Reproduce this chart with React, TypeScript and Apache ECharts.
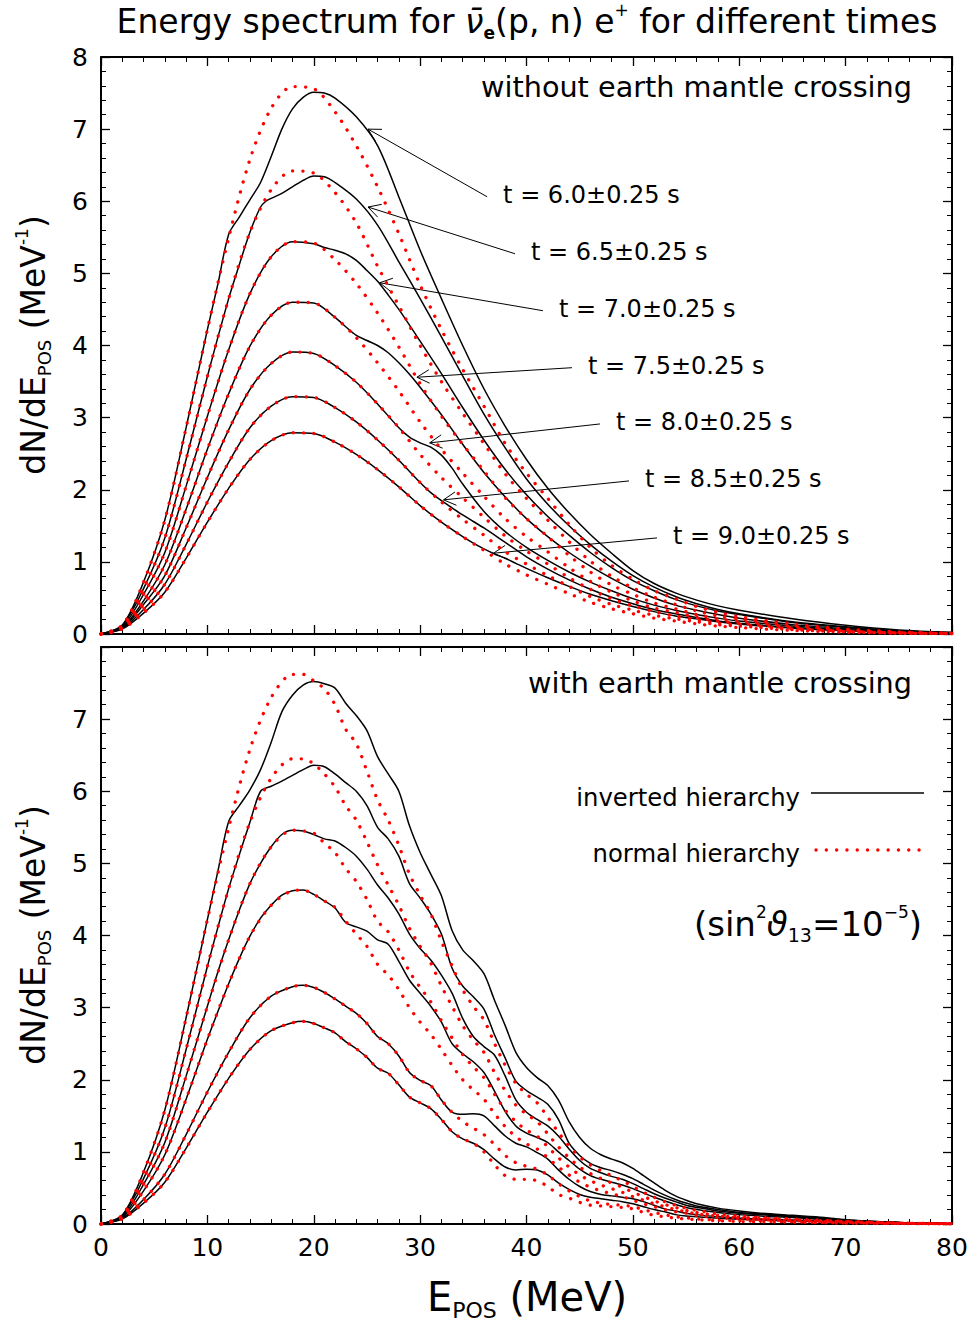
import React, { useEffect, useRef } from "react";
import * as echarts from "echarts";

// ---------- data ----------
const E_COARSE = [0,2,4,6,8,10,12,14,16,18,20,22,24,26,28,30,32,34,36,38,40,42,44,46,48,50,52,54,56,58,60,65,70,75,80];

// normal hierarchy (red dotted), without earth crossing
const RED_T60 = [0,0.12,0.72,1.58,2.86,4.22,5.49,6.58,7.29,7.59,7.56,7.24,6.77,6.20,5.55,4.84,4.22,3.67,3.16,2.64,2.23,1.88,1.52,1.20,0.95,0.76,0.60,0.49,0.38,0.30,0.24,0.14,0.07,0.03,0.01];
const RED_T65 = [0,0.12,0.63,1.33,2.42,3.57,4.65,5.57,6.16,6.42,6.39,6.12,5.70,5.10,4.55,4.00,3.50,3.06,2.64,2.22,1.88,1.58,1.28,1.01,0.80,0.64,0.51,0.41,0.32,0.25,0.21,0.12,0.06,0.023,0.01];
const RED_T70 = [0,0.10,0.55,1.13,2.05,3.02,3.94,4.72,5.23,5.44,5.42,5.19,4.86,4.45,3.98,3.47,3.02,2.63,2.26,1.89,1.60,1.35,1.09,0.86,0.68,0.55,0.43,0.35,0.27,0.21,0.18,0.10,0.05,0.02,0.01];
const RED_T75 = [0,0.09,0.46,0.96,1.73,2.56,3.33,3.99,4.42,4.60,4.59,4.39,4.11,3.76,3.37,2.94,2.56,2.23,1.91,1.60,1.35,1.14,0.92,0.73,0.58,0.46,0.36,0.30,0.23,0.18,0.15,0.08,0.04,0.017,0.008];
const RED_T80 = [0,0.08,0.41,0.81,1.47,2.17,2.83,3.39,3.75,3.91,3.89,3.72,3.49,3.19,2.86,2.49,2.17,1.89,1.62,1.36,1.15,0.97,0.78,0.62,0.49,0.39,0.31,0.25,0.20,0.15,0.13,0.07,0.035,0.014,0.007];
const RED_T85 = [0,0.08,0.34,0.69,1.24,1.83,2.38,2.86,3.16,3.29,3.28,3.14,2.94,2.69,2.41,2.10,1.83,1.59,1.37,1.14,0.97,0.81,0.66,0.52,0.41,0.33,0.26,0.21,0.17,0.13,0.11,0.06,0.03,0.012,0.005];
const RED_T90 = [0,0.07,0.29,0.58,1.05,1.55,2.02,2.42,2.68,2.79,2.78,2.66,2.49,2.28,2.04,1.78,1.55,1.35,1.16,0.97,0.82,0.69,0.56,0.44,0.35,0.28,0.22,0.18,0.14,0.11,0.09,0.05,0.025,0.01,0.005];

// inverted hierarchy (black), without earth crossing: [E, dN/dE]
const BLK_T60 = [[0,0],[2,0.12],[4,0.72],[6,1.58],[8,2.86],[10,4.22],[11,4.86],[12,5.54],[13,5.78],[14,6.02],[15,6.26],[16,6.62],[17,7.0],[18,7.28],[19,7.44],[20,7.51],[21,7.5],[22,7.43],[24,7.17],[26,6.77],[28,6.06],[30,5.32],[32,4.65],[34,4.0],[36,3.4],[38,2.88],[40,2.42],[42,2.02],[44,1.68],[46,1.38],[48,1.12],[50,0.88],[52,0.7],[54,0.57],[56,0.47],[58,0.39],[60,0.33],[65,0.21],[70,0.12],[75,0.055],[80,0.02]];
const BLK_T65 = [[0,0],[2,0.12],[4,0.63],[6,1.33],[8,2.42],[10,3.57],[12,4.65],[13,5.12],[14,5.57],[15,5.92],[15.5,6.0],[16,6.04],[17,6.11],[18,6.2],[19,6.29],[20,6.35],[21,6.34],[22,6.26],[24,6.03],[26,5.67],[28,5.16],[30,4.65],[32,4.12],[34,3.58],[36,3.05],[38,2.58],[40,2.15],[42,1.8],[44,1.5],[46,1.24],[48,1.01],[50,0.81],[52,0.65],[54,0.52],[56,0.42],[58,0.34],[60,0.28],[65,0.17],[70,0.1],[75,0.045],[80,0.02]];
const BLK_T70 = [[0,0],[2,0.10],[4,0.55],[6,1.13],[8,2.05],[10,3.02],[12,3.94],[14,4.72],[16,5.23],[18,5.44],[20,5.41],[21,5.36],[22,5.32],[23,5.27],[24,5.18],[25,5.04],[26,4.89],[27,4.7],[28,4.5],[30,4.06],[32,3.61],[34,3.14],[36,2.69],[38,2.28],[40,1.93],[42,1.63],[44,1.37],[46,1.13],[48,0.92],[50,0.74],[52,0.6],[54,0.48],[56,0.39],[58,0.32],[60,0.27],[65,0.16],[70,0.09],[75,0.04],[80,0.018]];
const BLK_T75 = [[0,0],[2,0.09],[4,0.46],[6,0.96],[8,1.73],[10,2.56],[12,3.33],[14,3.99],[16,4.42],[18,4.6],[20,4.59],[22,4.39],[23,4.26],[24,4.14],[25,4.07],[26,4.0],[27,3.9],[28,3.76],[29,3.6],[30,3.42],[32,3.04],[34,2.63],[36,2.24],[38,1.9],[40,1.6],[42,1.35],[44,1.13],[46,0.94],[48,0.77],[50,0.62],[52,0.5],[54,0.4],[56,0.33],[58,0.27],[60,0.22],[65,0.13],[70,0.075],[75,0.035],[80,0.015]];
const BLK_T80 = [[0,0],[2,0.08],[4,0.41],[6,0.81],[8,1.47],[10,2.17],[12,2.83],[14,3.39],[16,3.75],[18,3.91],[20,3.89],[22,3.72],[24,3.49],[26,3.19],[28,2.86],[29,2.73],[30,2.65],[31,2.59],[32,2.48],[33,2.3],[34,2.08],[36,1.7],[38,1.42],[40,1.2],[42,1.02],[44,0.86],[46,0.72],[48,0.6],[50,0.49],[52,0.4],[54,0.33],[56,0.27],[58,0.22],[60,0.18],[65,0.11],[70,0.06],[75,0.03],[80,0.012]];
const BLK_T85 = [[0,0],[2,0.08],[4,0.34],[6,0.69],[8,1.24],[10,1.83],[12,2.38],[14,2.86],[16,3.16],[18,3.29],[20,3.28],[22,3.14],[24,2.94],[26,2.69],[28,2.41],[30,2.1],[31,1.96],[32,1.85],[33,1.75],[34,1.65],[35,1.56],[36,1.47],[38,1.27],[40,1.07],[42,0.9],[44,0.75],[46,0.62],[48,0.51],[50,0.42],[52,0.34],[54,0.28],[56,0.23],[58,0.18],[60,0.15],[65,0.09],[70,0.05],[75,0.025],[80,0.01]];
const BLK_T90 = [[0,0],[2,0.07],[4,0.29],[6,0.58],[8,1.05],[10,1.55],[12,2.02],[14,2.42],[16,2.68],[18,2.79],[20,2.78],[22,2.66],[24,2.49],[26,2.28],[28,2.04],[30,1.78],[32,1.55],[34,1.35],[35,1.26],[36,1.18],[37,1.11],[38,1.05],[39,0.98],[40,0.91],[42,0.78],[44,0.66],[46,0.55],[48,0.46],[50,0.38],[52,0.31],[54,0.25],[56,0.21],[58,0.17],[60,0.14],[65,0.08],[70,0.045],[75,0.02],[80,0.01]];

// with earth mantle crossing: inverted (black)
const BLK_E60 = [[0,0],[2,0.12],[4,0.72],[6,1.58],[8,2.86],[10,4.22],[11,4.9],[12,5.58],[13,5.8],[14,6.02],[15,6.3],[16,6.68],[17,7.1],[18,7.33],[19,7.47],[20,7.52],[21,7.49],[22,7.43],[23,7.22],[24,7.05],[25,6.84],[26,6.48],[27,6.24],[28,6.0],[29,5.52],[30,5.15],[31,4.85],[32,4.55],[33,4.07],[34,3.8],[35,3.65],[36,3.47],[37,3.1],[38,2.75],[39,2.38],[40,2.17],[41,2.03],[42,1.92],[43,1.72],[44,1.42],[45,1.2],[46,1.05],[47,0.96],[48,0.9],[49,0.85],[50,0.77],[51,0.67],[52,0.57],[53,0.47],[54,0.39],[55,0.33],[56,0.28],[58,0.22],[60,0.18],[62,0.15],[65,0.12],[68,0.09],[70,0.06],[75,0.02],[80,0.005]];
const BLK_E65 = [[0,0],[2,0.12],[4,0.63],[6,1.33],[8,2.42],[10,3.57],[11,4.12],[12,4.65],[13,5.12],[14,5.57],[15,6.0],[16,6.07],[17,6.14],[18,6.22],[19,6.3],[20,6.36],[21,6.34],[22,6.24],[23,6.12],[24,6.0],[25,5.8],[26,5.5],[27,5.34],[28,5.1],[29,4.72],[30,4.52],[31,4.3],[32,4.02],[33,3.55],[34,3.3],[35,3.15],[36,2.98],[37,2.62],[38,2.3],[39,1.98],[40,1.85],[41,1.76],[42,1.66],[43,1.45],[44,1.12],[45,0.95],[46,0.84],[47,0.78],[48,0.74],[49,0.69],[50,0.63],[51,0.55],[52,0.47],[53,0.4],[54,0.34],[55,0.29],[56,0.25],[58,0.2],[60,0.16],[62,0.14],[65,0.11],[68,0.08],[70,0.055],[75,0.02],[80,0.005]];
const BLK_E70 = [[0,0],[2,0.10],[4,0.55],[6,1.13],[8,2.05],[10,3.02],[11,3.5],[12,3.94],[13,4.35],[14,4.72],[15,5.0],[16,5.23],[17,5.4],[18,5.46],[19,5.45],[20,5.4],[21,5.34],[22,5.31],[23,5.22],[24,5.1],[25,4.92],[26,4.7],[27,4.52],[28,4.3],[29,4.02],[30,3.82],[31,3.66],[32,3.45],[33,3.2],[34,2.85],[35,2.6],[36,2.46],[37,2.34],[38,2.05],[39,1.72],[40,1.55],[41,1.45],[42,1.36],[43,1.22],[44,1.04],[45,0.88],[46,0.77],[47,0.71],[48,0.66],[49,0.62],[50,0.56],[51,0.49],[52,0.42],[53,0.36],[54,0.31],[55,0.26],[56,0.23],[58,0.18],[60,0.15],[62,0.13],[65,0.1],[68,0.07],[70,0.05],[75,0.02],[80,0.005]];
const BLK_E75 = [[0,0],[2,0.09],[4,0.46],[6,0.96],[8,1.73],[10,2.56],[11,2.95],[12,3.33],[13,3.68],[14,3.99],[15,4.24],[16,4.42],[17,4.56],[18,4.62],[19,4.63],[20,4.57],[21,4.48],[22,4.38],[23,4.18],[24,4.12],[25,4.06],[26,3.94],[27,3.88],[28,3.64],[29,3.38],[30,3.2],[31,3.02],[32,2.8],[33,2.5],[34,2.36],[35,2.25],[36,2.1],[37,1.84],[38,1.56],[39,1.36],[40,1.26],[41,1.2],[42,1.13],[43,1.0],[44,0.88],[45,0.76],[46,0.67],[47,0.62],[48,0.58],[49,0.54],[50,0.49],[51,0.43],[52,0.37],[53,0.32],[54,0.27],[55,0.23],[56,0.2],[58,0.16],[60,0.13],[62,0.11],[65,0.09],[68,0.06],[70,0.045],[75,0.02],[80,0.005]];
const BLK_E85 = [[0,0],[2,0.08],[4,0.34],[6,0.69],[8,1.24],[10,1.83],[12,2.38],[14,2.86],[16,3.16],[18,3.29],[19,3.31],[20,3.28],[21,3.21],[22,3.12],[23,3.02],[24,2.92],[25,2.78],[26,2.6],[27,2.5],[28,2.33],[29,2.1],[30,1.99],[31,1.92],[32,1.72],[33,1.55],[34,1.52],[35,1.53],[36,1.5],[37,1.36],[38,1.22],[39,1.12],[40,1.07],[41,0.99],[42,0.9],[43,0.75],[44,0.62],[45,0.52],[46,0.45],[47,0.41],[48,0.39],[49,0.37],[50,0.35],[51,0.31],[52,0.26],[53,0.21],[54,0.18],[55,0.15],[56,0.13],[58,0.1],[60,0.08],[62,0.07],[65,0.055],[70,0.03],[75,0.012],[80,0.004]];
const BLK_E90 = [[0,0],[2,0.07],[4,0.29],[6,0.58],[8,1.05],[10,1.55],[12,2.02],[14,2.42],[16,2.68],[18,2.79],[19,2.81],[20,2.78],[21,2.72],[22,2.65],[23,2.53],[24,2.43],[25,2.31],[26,2.16],[27,2.09],[28,1.93],[29,1.76],[30,1.68],[31,1.6],[32,1.45],[33,1.28],[34,1.18],[35,1.12],[36,1.03],[37,0.9],[38,0.79],[39,0.75],[40,0.76],[41,0.75],[42,0.68],[43,0.57],[44,0.48],[45,0.41],[46,0.37],[47,0.35],[48,0.33],[49,0.31],[50,0.28],[51,0.24],[52,0.2],[53,0.17],[54,0.13],[55,0.11],[56,0.1],[58,0.08],[60,0.065],[62,0.055],[65,0.045],[70,0.025],[75,0.01],[80,0.004]];

// with earth mantle crossing: normal (red dotted)
const RED_E60 = [[0,0],[2,0.12],[4,0.72],[6,1.58],[8,2.86],[10,4.22],[12,5.49],[14,6.58],[16,7.3],[18,7.62],[19,7.62],[20,7.53],[21,7.42],[22,7.2],[23,6.86],[24,6.66],[25,6.28],[26,5.88],[27,5.6],[28,5.25],[29,4.85],[30,4.56],[31,4.3],[32,3.92],[33,3.58],[34,3.25],[35,3.02],[36,2.83],[37,2.5],[38,2.2],[39,1.95],[40,1.8],[41,1.68],[42,1.48],[43,1.27],[44,1.08],[45,0.93],[46,0.82],[47,0.74],[48,0.67],[49,0.6],[50,0.52],[51,0.44],[52,0.37],[53,0.31],[54,0.26],[55,0.22],[56,0.19],[58,0.14],[60,0.11],[62,0.09],[65,0.07],[70,0.04],[75,0.015],[80,0.005]];
const RED_E65 = [[0,0],[2,0.12],[4,0.63],[6,1.33],[8,2.42],[10,3.57],[12,4.65],[14,5.57],[16,6.18],[18,6.45],[19,6.45],[20,6.38],[21,6.24],[22,6.06],[23,5.8],[24,5.6],[25,5.3],[26,4.98],[27,4.7],[28,4.42],[29,4.1],[30,3.85],[31,3.62],[32,3.3],[33,3.02],[34,2.75],[35,2.55],[36,2.38],[37,2.1],[38,1.85],[39,1.65],[40,1.52],[41,1.42],[42,1.25],[43,1.07],[44,0.92],[45,0.79],[46,0.7],[47,0.63],[48,0.57],[49,0.51],[50,0.44],[51,0.38],[52,0.32],[53,0.27],[54,0.23],[55,0.19],[56,0.16],[58,0.12],[60,0.095],[62,0.08],[65,0.06],[70,0.035],[75,0.013],[80,0.004]];
const RED_E70 = [[0,0],[2,0.10],[4,0.55],[6,1.13],[8,2.05],[10,3.02],[12,3.94],[14,4.72],[16,5.23],[18,5.46],[19,5.45],[20,5.42],[21,5.28],[22,5.15],[23,4.93],[24,4.75],[25,4.5],[26,4.2],[27,4.05],[28,3.8],[29,3.5],[30,3.28],[31,3.08],[32,2.82],[33,2.58],[34,2.35],[35,2.18],[36,2.03],[37,1.8],[38,1.58],[39,1.42],[40,1.3],[41,1.22],[42,1.07],[43,0.92],[44,0.79],[45,0.68],[46,0.6],[47,0.54],[48,0.49],[49,0.44],[50,0.38],[51,0.33],[52,0.28],[53,0.24],[54,0.2],[55,0.17],[56,0.14],[58,0.11],[60,0.085],[62,0.07],[65,0.05],[70,0.03],[75,0.012],[80,0.004]];
const RED_E75 = [[0,0],[2,0.09],[4,0.46],[6,0.96],[8,1.73],[10,2.56],[12,3.33],[14,3.99],[16,4.42],[18,4.62],[19,4.63],[20,4.57],[21,4.48],[22,4.39],[23,4.2],[24,4.02],[25,3.85],[26,3.6],[27,3.45],[28,3.25],[29,3.0],[30,2.8],[31,2.63],[32,2.42],[33,2.2],[34,2.0],[35,1.86],[36,1.73],[37,1.53],[38,1.35],[39,1.21],[40,1.11],[41,1.04],[42,0.92],[43,0.79],[44,0.68],[45,0.58],[46,0.51],[47,0.46],[48,0.42],[49,0.38],[50,0.33],[51,0.28],[52,0.24],[53,0.2],[54,0.17],[55,0.15],[56,0.12],[58,0.09],[60,0.075],[62,0.06],[65,0.045],[70,0.025],[75,0.01],[80,0.004]];
const RED_E85 = [[0,0],[2,0.08],[4,0.34],[6,0.69],[8,1.24],[10,1.83],[12,2.38],[14,2.86],[16,3.16],[18,3.29],[19,3.31],[20,3.28],[21,3.21],[22,3.12],[23,3.02],[24,2.92],[25,2.78],[26,2.6],[27,2.5],[28,2.33],[29,2.1],[30,1.99],[31,1.92],[32,1.72],[33,1.55],[34,1.42],[35,1.33],[36,1.24],[37,1.1],[38,0.95],[39,0.85],[40,0.8],[41,0.76],[42,0.68],[43,0.56],[44,0.46],[45,0.38],[46,0.32],[47,0.29],[48,0.27],[49,0.26],[50,0.24],[51,0.2],[52,0.16],[53,0.13],[54,0.1],[55,0.085],[56,0.07],[58,0.055],[60,0.045],[65,0.03],[70,0.015],[75,0.007],[80,0.003]];
const RED_E90 = [[0,0],[2,0.07],[4,0.29],[6,0.58],[8,1.05],[10,1.55],[12,2.02],[14,2.42],[16,2.68],[18,2.79],[19,2.81],[20,2.78],[21,2.72],[22,2.65],[23,2.53],[24,2.43],[25,2.31],[26,2.16],[27,2.09],[28,1.93],[29,1.76],[30,1.68],[31,1.6],[32,1.45],[33,1.28],[34,1.18],[35,1.12],[36,1.0],[37,0.82],[38,0.67],[39,0.62],[40,0.62],[41,0.6],[42,0.52],[43,0.41],[44,0.36],[45,0.3],[46,0.26],[47,0.25],[48,0.24],[49,0.23],[50,0.21],[51,0.16],[52,0.12],[53,0.1],[54,0.08],[55,0.07],[56,0.06],[58,0.045],[60,0.035],[65,0.025],[70,0.012],[75,0.005],[80,0.002]];

// annotations (data coordinates of the top panel)
const TIME_LABELS = ["t = 6.0±0.25 s","t = 6.5±0.25 s","t = 7.0±0.25 s","t = 7.5±0.25 s","t = 8.0±0.25 s","t = 8.5±0.25 s","t = 9.0±0.25 s"];
const ARROW_TIPS = [[25.1,7.0],[25.1,5.92],[26.2,4.87],[29.7,3.56],[30.9,2.65],[32.2,1.86],[36.9,1.12]];
const LABEL_ANCHORS = [[37.8,6.09],[40.42,5.3],[43.05,4.51],[45.78,3.72],[48.41,2.94],[51.14,2.15],[53.77,1.36]];

const X_TICKS_MAX = 80;
const Y_MAX = 8;

const FONT = "'DejaVu Sans', 'Liberation Sans', sans-serif";

const pairs = (xs: number[], ys: number[]) => xs.map((x, i) => [x, ys[i]]);

export default function App() {
  const ref = useRef<HTMLDivElement>(null);
  useEffect(() => {
    document.body.style.margin = "0";
    const chart = echarts.init(ref.current!, null, { renderer: "svg" });

    const LEFT = 101, WIDTH = 851, HEIGHT = 577, TOP1 = 57, TOP2 = 647;

    const xAxis = (gridIndex: number, position: string, showLabel: boolean) => ({
      type: "value", gridIndex, position, min: 0, max: X_TICKS_MAX, interval: 10,
      axisLine: { show: true, onZero: false, lineStyle: { color: "#000", width: 2 } },
      axisTick: { show: true, inside: true, length: 9, lineStyle: { color: "#000", width: 1.3 } },
      minorTick: { show: true, splitNumber: 5, length: 5, lineStyle: { color: "#000", width: 1 } },
      splitLine: { show: false },
      axisLabel: { show: showLabel, margin: 11, fontSize: 25, color: "#000", fontFamily: FONT },
    });
    const yAxis = (gridIndex: number, position: string, showLabel: boolean, hideTop: boolean) => ({
      type: "value", gridIndex, position, min: 0, max: Y_MAX, interval: 1,
      axisLine: { show: true, onZero: false, lineStyle: { color: "#000", width: 2 } },
      axisTick: { show: true, inside: true, length: 9, lineStyle: { color: "#000", width: 1.3 } },
      minorTick: { show: true, splitNumber: 5, length: 5, lineStyle: { color: "#000", width: 1 } },
      splitLine: { show: false },
      axisLabel: {
        show: showLabel, margin: 13, fontSize: 25, color: "#000", fontFamily: FONT,
        formatter: (v: number) => (hideTop && v === Y_MAX ? "" : String(v)),
      },
    });

    const blk = (data: any, g: number) => ({
      type: "line", xAxisIndex: g * 2, yAxisIndex: g * 2, data, showSymbol: false, symbol: "none",
      smooth: 0.3, silent: true, z: 2, animation: false,
      lineStyle: { color: "#000", width: 1.5 },
    });
    const red = (data: any, g: number) => ({
      type: "line", xAxisIndex: g * 2, yAxisIndex: g * 2, data, showSymbol: false, symbol: "none",
      smooth: 0.3, silent: true, z: 3, animation: false,
      lineStyle: { color: "#ff0000", width: 3.3, type: [0.1, 10.2], cap: "round" },
    });

    const series = [
      blk(BLK_T60, 0), blk(BLK_T65, 0), blk(BLK_T70, 0), blk(BLK_T75, 0), blk(BLK_T80, 0), blk(BLK_T85, 0), blk(BLK_T90, 0),
      red(pairs(E_COARSE, RED_T60), 0), red(pairs(E_COARSE, RED_T65), 0), red(pairs(E_COARSE, RED_T70), 0),
      red(pairs(E_COARSE, RED_T75), 0), red(pairs(E_COARSE, RED_T80), 0), red(pairs(E_COARSE, RED_T85), 0),
      red(pairs(E_COARSE, RED_T90), 0),
      blk(BLK_E60, 1), blk(BLK_E65, 1), blk(BLK_E70, 1), blk(BLK_E75, 1), blk(BLK_E85, 1), blk(BLK_E90, 1),
      red(RED_E60, 1), red(RED_E65, 1), red(RED_E70, 1), red(RED_E75, 1), red(RED_E85, 1), red(RED_E90, 1),
    ];

    chart.setOption({
      animation: false,
      backgroundColor: "#fff",
      grid: [
        { left: LEFT, top: TOP1, width: WIDTH, height: HEIGHT },
        { left: LEFT, top: TOP2, width: WIDTH, height: HEIGHT },
      ],
      xAxis: [xAxis(0, "bottom", false), xAxis(0, "top", false), xAxis(1, "bottom", true), xAxis(1, "top", false)],
      yAxis: [yAxis(0, "left", true, false), yAxis(0, "right", false, false), yAxis(1, "left", true, true), yAxis(1, "right", false, false)],
      series,
    });

    const toPx = (p: number[]) => chart.convertToPixel({ gridIndex: 0 }, p) as number[];
    const graphics: any[] = [];

    // leader lines with open arrow heads and time labels
    TIME_LABELS.forEach((label, i) => {
      const a = toPx(LABEL_ANCHORS[i]);
      const tip = toPx(ARROW_TIPS[i]);
      const start = [a[0] - 16, a[1] + 2];
      graphics.push({
        type: "line", silent: true,
        shape: { x1: start[0], y1: start[1], x2: tip[0], y2: tip[1] },
        style: { stroke: "#000", lineWidth: 1 },
      });
      const ang = Math.atan2(start[1] - tip[1], start[0] - tip[0]);
      const hl = 14, ha = 0.5;
      graphics.push({
        type: "polyline", silent: true,
        shape: {
          points: [
            [tip[0] + hl * Math.cos(ang + ha), tip[1] + hl * Math.sin(ang + ha)],
            [tip[0], tip[1]],
            [tip[0] + hl * Math.cos(ang - ha), tip[1] + hl * Math.sin(ang - ha)],
          ],
        },
        style: { stroke: "#000", lineWidth: 1, fill: "none" },
      });
      graphics.push({
        type: "text", silent: true, x: a[0], y: a[1],
        style: { text: label, fontSize: 24, fontFamily: FONT, fill: "#000", textAlign: "left", textVerticalAlign: "middle" },
      });
    });

    const rich = (size: number) => ({
      a: { fontSize: size, fontFamily: FONT, color: "#000", lineHeight: Math.round(size * 1.2) },
      it: { fontSize: size, fontFamily: FONT, fontStyle: "italic", color: "#000", lineHeight: Math.round(size * 1.2) },
      sub: { fontSize: Math.round(size * 0.5), fontFamily: FONT, fontWeight: "bold", color: "#000", verticalAlign: "bottom", lineHeight: Math.round(size * 0.5) },
      subn: { fontSize: Math.round(size * 0.55), fontFamily: FONT, color: "#000", verticalAlign: "bottom", lineHeight: Math.round(size * 0.55) },
      sup: { fontSize: Math.round(size * 0.5), fontFamily: FONT, color: "#000", verticalAlign: "top", lineHeight: Math.round(size * 0.5) },
    });

    // title
    graphics.push({
      type: "text", silent: true, x: 527, y: 21,
      style: {
        text: "{a|Energy spectrum for }{it|ν̄}{sub|e}{a|(p, n) e}{sup|+}{a| for different times}",
        rich: rich(33), textAlign: "center", textVerticalAlign: "middle",
      },
    });
    // x axis title
    graphics.push({
      type: "text", silent: true, x: 527, y: 1297,
      style: { text: "{a|E}{subn|POS}{a| (MeV)}", rich: rich(40), textAlign: "center", textVerticalAlign: "middle" },
    });
    // y axis titles
    [345, 935].forEach((yc) => {
      graphics.push({
        type: "text", silent: true, x: 33, y: yc, rotation: Math.PI / 2,
        style: { text: "{a|dN/dE}{subn|POS}{a| (MeV}{sup|-1}{a|)}", rich: rich(33), textAlign: "center", textVerticalAlign: "middle" },
      });
    });
    // panel captions
    graphics.push({
      type: "text", silent: true, x: 912, y: 87,
      style: { text: "without earth mantle crossing", fontSize: 28.7, fontFamily: FONT, fill: "#000", textAlign: "right", textVerticalAlign: "middle" },
    });
    graphics.push({
      type: "text", silent: true, x: 912, y: 683,
      style: { text: "with earth mantle crossing", fontSize: 28.7, fontFamily: FONT, fill: "#000", textAlign: "right", textVerticalAlign: "middle" },
    });
    // legend
    graphics.push({
      type: "text", silent: true, x: 800, y: 797,
      style: { text: "inverted hierarchy", fontSize: 24.3, fontFamily: FONT, fill: "#000", textAlign: "right", textVerticalAlign: "middle" },
    });
    graphics.push({
      type: "line", silent: true, shape: { x1: 811, y1: 793, x2: 924, y2: 793 },
      style: { stroke: "#000", lineWidth: 1.5 },
    });
    graphics.push({
      type: "text", silent: true, x: 800, y: 853,
      style: { text: "normal hierarchy", fontSize: 24.3, fontFamily: FONT, fill: "#000", textAlign: "right", textVerticalAlign: "middle" },
    });
    graphics.push({
      type: "line", silent: true, shape: { x1: 816, y1: 850, x2: 921, y2: 850 },
      style: { stroke: "#ff0000", lineWidth: 3.3, lineDash: [0.1, 10.2], lineCap: "round" },
    });
    graphics.push({
      type: "text", silent: true, x: 922, y: 924,
      style: { text: "{a|(sin}{sup|2}{it|ϑ}{subn|13}{a|=10}{sup|−5}{a|)}", rich: rich(34), textAlign: "right", textVerticalAlign: "middle" },
    });

    chart.setOption({ graphic: graphics });

    return () => chart.dispose();
  }, []);

  return <div ref={ref} style={{ width: 972, height: 1330, background: "#fff" }} />;
}
